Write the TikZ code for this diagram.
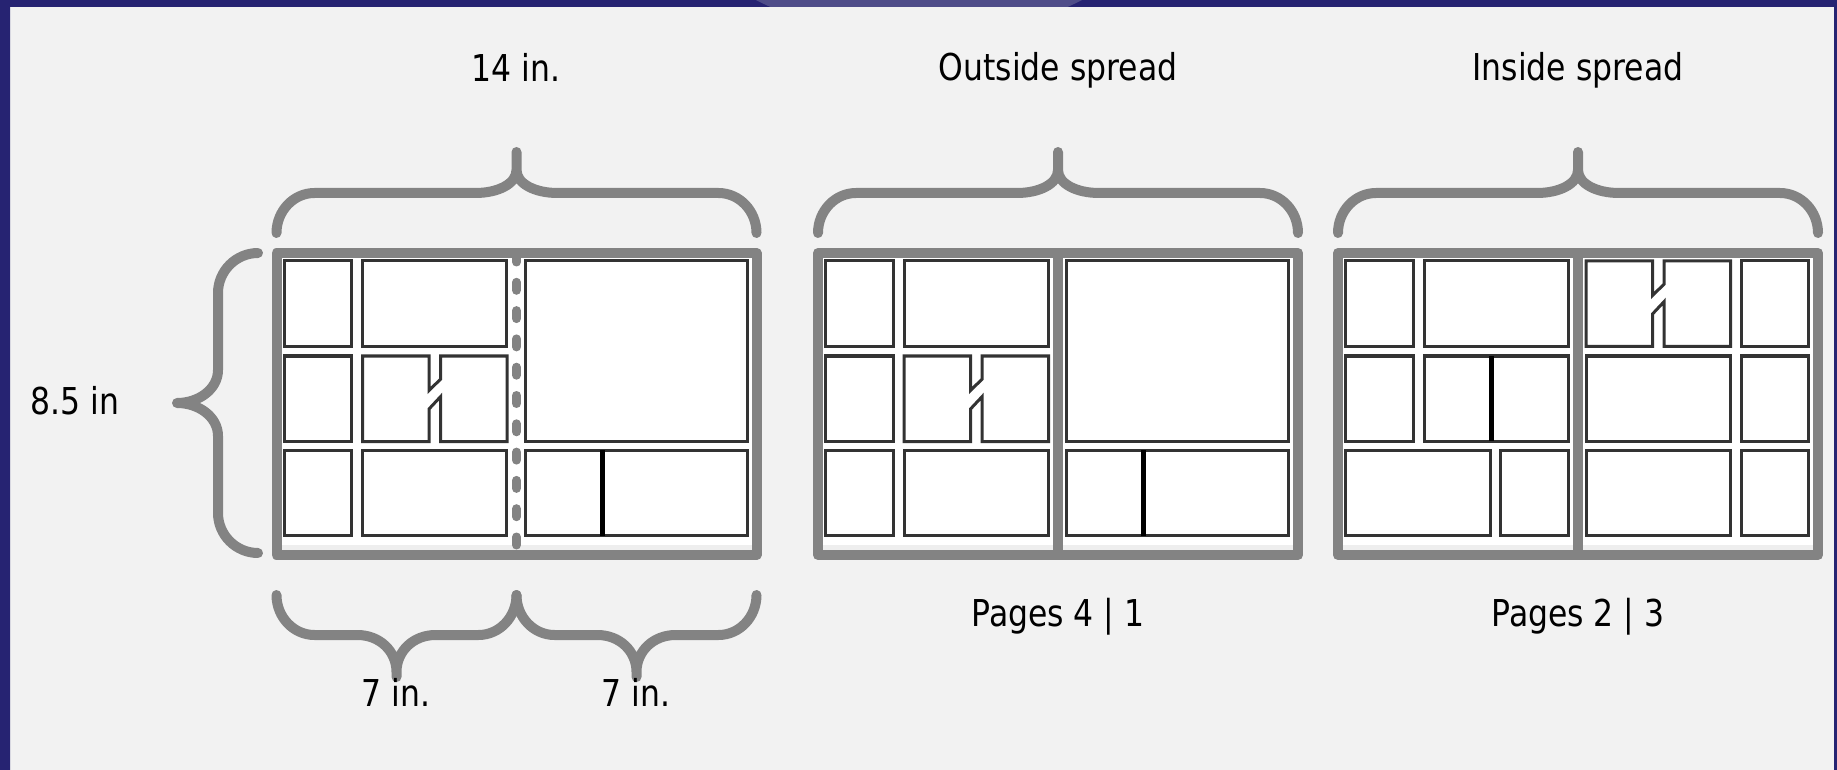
\documentclass[tikz,border=0pt]{standalone}
\usepackage{fontspec}
\setmainfont{DejaVu Sans}[FakeStretch=0.85]
\definecolor{bg}{HTML}{F2F2F2}
\definecolor{navy}{HTML}{262372}
\definecolor{glow}{HTML}{4F4D89}
\definecolor{fgray}{HTML}{838383}
\definecolor{strip}{HTML}{EEEEEE}
% a panel that is nearly cut in two by a slanted gutter
\newcommand{\brokenpanel}[1]{\draw[panel] (#1) -- ++(66.5,0) -- ++(0,34.5) -- ++(11.7,-11.5) -- ++(0,-23) -- ++(66.3,0) -- ++(0,85.5) -- ++(-66.3,0) -- ++(0,-45) -- ++(-11.7,12.5) -- ++(0,32.5) -- ++(-66.5,0) -- cycle;}
\begin{document}
\begin{tikzpicture}[x=0.5pt, y=-0.5pt,
	brace/.style={draw=fgray, line width=5pt, line cap=round, line join=round},
	frame/.style={draw=fgray, line width=5pt, line join=round},
	panel/.style={draw=black!80, fill=white, line width=1.5pt},
	split/.style={draw=black, line width=2.5pt},
	fold/.style={draw=fgray, line width=4.5pt, line cap=round, dash pattern=on 4pt off 10.15pt},
	every node/.style={font=\fontsize{18.5}{20}\selectfont, inner sep=0pt}]
	\useasboundingbox (0,0) rectangle (1837,770);
	\fill[bg] (0,0) rectangle (1837,770);
	\fill[navy] (0,0) rectangle (1837,7) (0,0) rectangle (10,770) (1834,0) rectangle (1837,770);
	\begin{scope}
		\clip (0,0) rectangle (1837,7);
		\fill[glow] (919,-321) circle (360);
	\end{scope}
	% frames and top braces
	\foreach \xo in {276.5,818,1338} {
		\begin{scope}[shift={(\xo,0)}]
			\fill[white] (5,258) rectangle (475,550);
			\fill[strip] (5,545) rectangle (475,550);
			\draw[brace] (0,233) .. controls (0,211) and (17,193) .. (38,193) -- (199,193)
				.. controls (221,193) and (240,184) .. (240,170) -- (240,152) -- (240,170)
				.. controls (240,184) and (259,193) .. (281,193) -- (442,193)
				.. controls (463,193) and (480,211) .. (480,233);
		\end{scope}
	}
	% outside layout: left and middle spreads
	\foreach \xo in {276.5,818} {
		\begin{scope}[shift={(\xo,0)}]
			\foreach \t/\u in {261/346.7,356/441,450/535.7}
				\draw[panel] (7.7,\t) rectangle (75,\u);
			\draw[panel] (86,261) rectangle (230,346.7);
			\brokenpanel{86,356}
			\draw[panel] (86,450) rectangle (230,535.7);
			\draw[panel] (248.7,261) rectangle (470.7,441);
			\draw[panel] (248.7,450) rectangle (470.7,535.7);
			\draw[split] (325.7,450) -- (325.7,535.7);
		\end{scope}
	}
	\draw[fold] (516.5,254) -- (516.5,555);
	\draw[frame] (276.5,253) rectangle (756.5,555);
	\draw[frame] (1058,253) -- (1058,555);
	\draw[frame] (818,253) rectangle (1298,555);
	% inside layout
	\begin{scope}[shift={(1338,0)}]
		\draw[panel] (7.7,261) rectangle (75,346.7);
		\draw[panel] (86,261) rectangle (230,346.7);
		\draw[panel] (7.7,356) rectangle (75,441);
		\draw[panel] (86,356) rectangle (230,441);
		\draw[split] (153,356) -- (153,441);
		\draw[panel] (7.7,450) rectangle (152,535.7);
		\draw[panel] (162.7,450) rectangle (230,535.7);
		\brokenpanel{248,261}
		\draw[panel] (248,356) rectangle (392.7,441);
		\draw[panel] (248,450) rectangle (392.7,535.7);
		\foreach \t/\u in {261/346.7,356/441,450/535.7}
			\draw[panel] (403.3,\t) rectangle (470.7,\u);
		\draw[frame] (240,253) -- (240,555);
		\draw[frame] (0,253) rectangle (480,555);
	\end{scope}
	% side brace
	\draw[brace] (258,253) .. controls (236,253) and (218,271) .. (218,293) -- (218,370)
		.. controls (218,389) and (199,403) .. (177,403)
		.. controls (199,403) and (218,417) .. (218,436) -- (218,513)
		.. controls (218,535) and (236,553) .. (258,553);
	% bottom braces, one for each page
	\foreach \xo in {276.5,516.5} {
		\draw[brace, shift={(\xo,0)}] (0,595) .. controls (0,617) and (17,635) .. (38,635) -- (81,635)
			.. controls (103,635) and (120,651) .. (120,672) -- (120,677) -- (120,672)
			.. controls (120,651) and (137,635) .. (159,635) -- (202,635)
			.. controls (223,635) and (240,617) .. (240,595);
	}
	% labels
	\node[anchor=base] (width) at (516,82) {14 in.};
	\node[anchor=base] (outside) at (1058,81) {Outside spread};
	\node[anchor=base] (inside) at (1578,81) {Inside spread};
	\node[anchor=base] (outpages) at (1058,626.7) {Pages 4 | 1};
	\node[anchor=base] (inpages) at (1578,626.7) {Pages 2 | 3};
	\node[anchor=base] (halfa) at (396,706.7) {7 in.};
	\node[anchor=base] (halfb) at (636,706.7) {7 in.};
	\node[anchor=base] (height) at (75,414) {8.5 in};
\end{tikzpicture}
\end{document}
